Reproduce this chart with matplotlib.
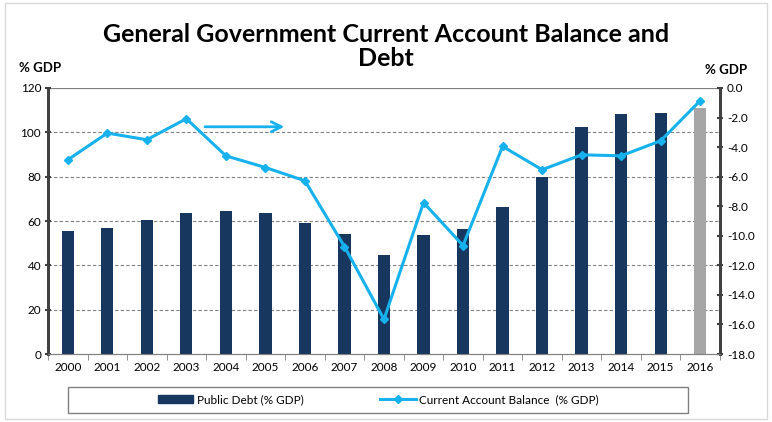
import numpy as np
import matplotlib.pyplot as plt
from matplotlib.patches import Rectangle
from matplotlib.lines import Line2D

years = ['2000', '2001', '2002', '2003', '2004', '2005', '2006', '2007', '2008',
         '2009', '2010', '2011', '2012', '2013', '2014', '2015', '2016']
public_debt = [55.5, 57.0, 60.5, 63.5, 64.5, 63.5, 59.0, 54.0, 44.7,
               53.5, 56.5, 66.2, 79.7, 102.6, 108.2, 108.6, 110.8]
current_balance = [-4.86, -3.05, -3.5, -2.08, -4.59, -5.38, -6.28, -10.73, -15.65,
                   -7.75, -10.66, -3.95, -5.53, -4.52, -4.59, -3.57, -0.86]

navy = '#17375e'
grey_bar = '#a6a6a6'
cyan = '#17b1ee'
font = 'Lato'

plt.rcParams['font.family'] = font

fig = plt.figure(figsize=(7.72, 4.22), dpi=100)
ax = fig.add_axes([0.0622, 0.161, 0.8704, 0.6305])
ax2 = ax.twinx()

x = np.arange(len(years))
colors = [navy] * (len(years) - 1) + [grey_bar]
ax.bar(x, public_debt, width=0.31, color=colors, zorder=3)

ax.set_ylim(0, 120)
ax.set_xlim(-0.5, len(years) - 0.5)
ax.set_yticks(range(0, 121, 20))
for v in range(20, 120, 20):
    ax.axhline(v, color='#808080', lw=0.8, ls=(0, (3, 2)), zorder=1)
ax.axhline(120, color='#808080', lw=0.9, zorder=1)

ax2.plot(x, current_balance, color=cyan, lw=2.2, marker='D', ms=4.5,
         zorder=4)
ax2.set_ylim(-18, 0)
ax2.set_yticks(np.arange(-18, 0.1, 2))
ax2.set_yticklabels(['%.1f' % v for v in np.arange(-18, 0.1, 2)])

# arrow pointing to the right-hand axis
ax.annotate('', xy=(5.55, 102.5), xytext=(3.4, 102.5),
            arrowprops=dict(arrowstyle='->', color=cyan, lw=2,
                            mutation_scale=18), zorder=5)

ax.set_xticks(x)
ax.set_xticklabels(years)
ax.set_xticks(np.arange(-0.5, len(years), 1), minor=True)
ax.tick_params(axis='x', which='major', length=0, labelsize=8.5, pad=6)
ax.tick_params(axis='x', which='minor', length=4, color='#808080', direction='out')
ax.tick_params(axis='y', length=4, width=1.5, direction='inout', labelsize=8.5,
               color='#404040', pad=3)
ax2.tick_params(axis='y', length=4, width=1.5, direction='inout', labelsize=8.5,
                color='#404040', pad=3)

for a in (ax, ax2):
    a.spines['top'].set_visible(False)
    a.spines['bottom'].set_color('#808080')
    a.spines['left'].set_color('#404040')
    a.spines['right'].set_color('#404040')
    a.spines['left'].set_linewidth(2)
    a.spines['right'].set_linewidth(2)
ax2.set_zorder(ax.get_zorder() + 1)
ax2.patch.set_visible(False)

fig.text(0.5, 0.945, 'General Government Current Account Balance and\nDebt',
         ha='center', va='top', fontsize=18, fontweight='bold', linespacing=1.05)
fig.text(0.025, 0.84, '% GDP', ha='left', va='center', fontsize=9.5,
         fontweight='bold')
fig.text(0.968, 0.835, '% GDP', ha='right', va='center', fontsize=9.5,
         fontweight='bold')

# legend box
fig.patches.append(Rectangle((0.0881, 0.022), 0.803, 0.062, transform=fig.transFigure,
                             fill=False, edgecolor='#808080', lw=1))
handles = [Rectangle((0, 0), 1, 1, color=navy),
           Line2D([], [], color=cyan, lw=2.2, marker='D', ms=4)]
fig.legend(handles, ['Public Debt (% GDP)', 'Current Account Balance  (% GDP)'],
           loc='center', bbox_to_anchor=(0.49, 0.053), ncol=2, fontsize=8.5,
           frameon=False, handlelength=3.0, handletextpad=0.3, columnspacing=6.5)

fig.patches.append(Rectangle((0.006, 0.006), 0.988, 0.988, transform=fig.transFigure,
                             fill=False, edgecolor='#d9d9d9', lw=1))

fig.savefig('out.png', dpi=100)
